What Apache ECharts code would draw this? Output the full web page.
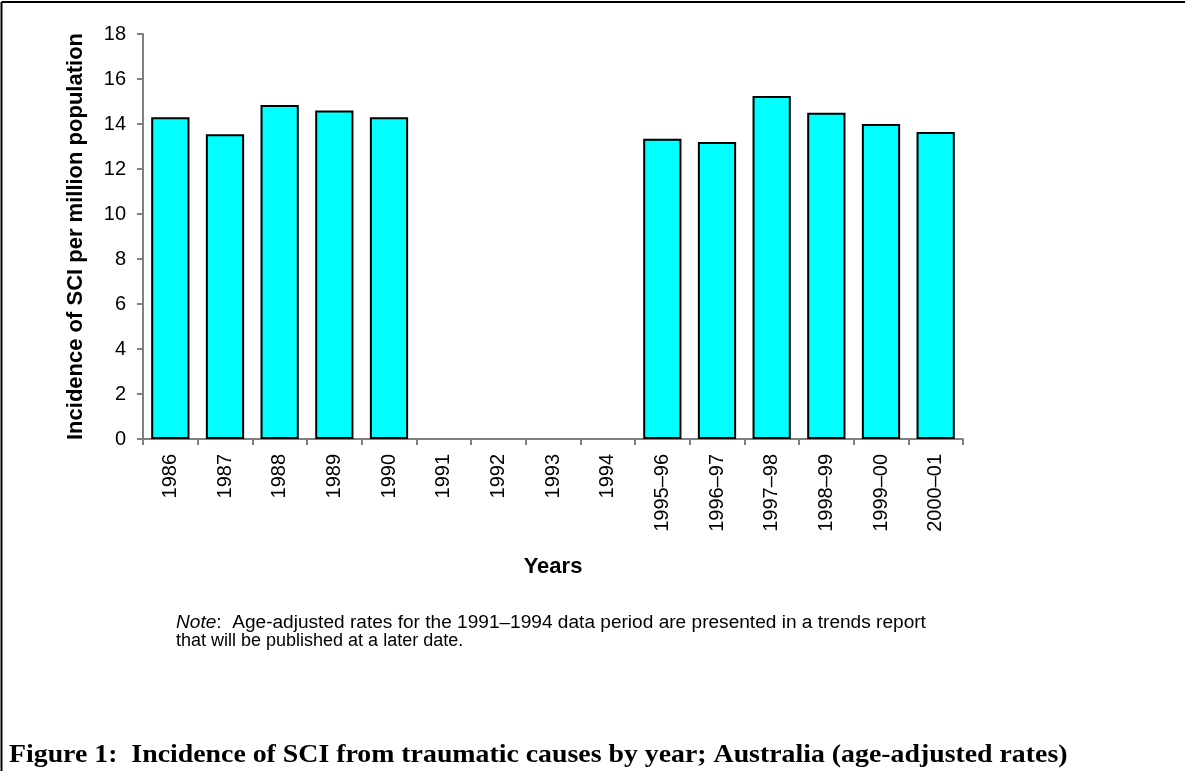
<!DOCTYPE html>
<html>
<head>
<meta charset="utf-8">
<script src="https://cdn.jsdelivr.net/npm/echarts@6/dist/echarts.min.js"></script>
<style>
  html, body { margin: 0; padding: 0; background: #fff; }
  #chart { width: 1185px; height: 771px; }
</style>
</head>
<body>
<div id="chart"></div>
<script>
// Reporting periods (calendar years, then financial years)
const categories = ['1986', '1987', '1988', '1989', '1990', '1991', '1992', '1993', '1994',
  '1995–96', '1996–97', '1997–98', '1998–99', '1999–00', '2000–01'];
// Age-adjusted incidence per million population; 1991–1994 not reported here
const incidence = [14.3, 13.55, 14.85, 14.6, 14.3, null, null, null, null,
  13.35, 13.2, 15.25, 14.5, 14.0, 13.65];
const yTicks = { min: 0, max: 18, interval: 2 };

const noteFont = { fontFamily: 'Liberation Sans', fontSize: 18, fill: '#000', lineHeight: 18 };

const chart = echarts.init(document.getElementById('chart'), null, { renderer: 'canvas' });

chart.setOption({
  backgroundColor: '#fff',
  animation: false,
  grid: { left: 143, top: 34, right: 222, bottom: 332, containLabel: false },
  xAxis: {
    type: 'category',
    data: categories,
    name: 'Years',
    nameLocation: 'middle',
    nameGap: 117,
    nameTextStyle: { fontFamily: 'Liberation Sans', fontWeight: 'bold', fontSize: 22, color: '#000' },
    axisLine: { lineStyle: { color: '#808080', width: 2 } },
    axisTick: { show: true, length: 6, alignWithLabel: false, lineStyle: { color: '#808080', width: 2 } },
    axisLabel: { rotate: 90, margin: 15, fontFamily: 'Liberation Sans', fontSize: 20, color: '#000' },
    splitLine: { show: false }
  },
  yAxis: {
    type: 'value',
    min: yTicks.min,
    max: yTicks.max,
    interval: yTicks.interval,
    name: 'Incidence of SCI per million population',
    nameLocation: 'middle',
    nameGap: 56,
    nameTextStyle: { fontFamily: 'Liberation Sans', fontWeight: 'bold', fontSize: 22, color: '#000' },
    axisLine: { show: true, lineStyle: { color: '#808080', width: 2 } },
    axisTick: { show: true, length: 6, lineStyle: { color: '#808080', width: 2 } },
    axisLabel: { margin: 17, fontFamily: 'Liberation Sans', fontSize: 20, color: '#000' },
    splitLine: { show: false }
  },
  series: [{
    type: 'bar',
    data: incidence,
    barCategoryGap: '30%',
    itemStyle: { color: '#00FFFF', borderColor: '#000', borderWidth: 2 }
  }],
  graphic: [
    // frame: top and left rules
    { type: 'line', shape: { x1: 1.5, y1: 2, x2: 1185, y2: 2 }, style: { stroke: '#000', lineWidth: 2 } },
    { type: 'line', shape: { x1: 1.5, y1: 2, x2: 1.5, y2: 771 }, style: { stroke: '#000', lineWidth: 2 } },
    // note, first line set justified to the paragraph width
    {
      type: 'text', x: 176, y: 614, scaleX: 1.06,
      style: {
        rich: {
          i: Object.assign({ fontStyle: 'italic' }, noteFont),
          n: noteFont
        },
        text: '{i|Note}{n|:  Age-adjusted rates for the 1991–1994 data period are presented in a trends report}'
      }
    },
    {
      type: 'text', x: 176, y: 632,
      style: Object.assign({ text: 'that will be published at a later date.' }, noteFont)
    },
    {
      type: 'text', x: 9, y: 743, scaleX: 1.113,
      style: {
        text: 'Figure 1:  Incidence of SCI from traumatic causes by year; Australia (age-adjusted rates)',
        fontFamily: 'Liberation Serif', fontWeight: 'bold', fontSize: 25, fill: '#000'
      }
    }
  ]
});
</script>
</body>
</html>
